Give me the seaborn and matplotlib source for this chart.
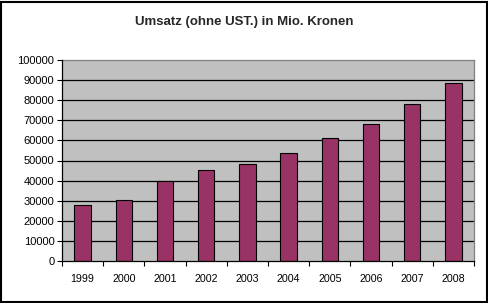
import matplotlib
matplotlib.use("Agg")
import matplotlib.pyplot as plt
import seaborn as sns
import pandas as pd
import numpy as np
from matplotlib.patches import Rectangle

years = ["1999", "2000", "2001", "2002", "2003", "2004", "2005", "2006", "2007", "2008"]
umsatz = [28000, 30500, 40000, 45500, 48500, 53700, 61000, 68000, 78000, 88500]
yticks = [0, 10000, 20000, 30000, 40000, 50000, 60000, 70000, 80000, 90000, 100000]
title = "Umsatz (ohne UST.) in Mio. Kronen"

sns.set_theme(style="white")
plt.rcParams["font.family"] = ["Liberation Sans", "DejaVu Sans"]

df = pd.DataFrame({"Jahr": years, "Umsatz": umsatz})

fig = plt.figure(figsize=(4.89, 3.03), dpi=100)
fig.patch.set_facecolor("white")
ax = fig.add_axes([62/489, 42/303, 412/489, 201/303])
ax.set_facecolor("#C0C0C0")

sns.barplot(data=df, x="Jahr", y="Umsatz", color="#993366", width=0.4,
            edgecolor="black", linewidth=0.8, saturation=1, ax=ax, zorder=3)

ax.set_ylim(0, 100000)
ax.set_xlim(-0.5, len(years) - 0.5)
ax.set_yticks(yticks)
ax.set_yticklabels([str(v) for v in yticks], fontsize=8, color="black")
for v in yticks[1:-1]:
    ax.axhline(v, color="black", linewidth=0.9, zorder=1)

ax.set_xticks(range(len(years)))
ax.set_xticklabels(years, fontsize=7.7, color="black")
ax.tick_params(axis="x", which="major", length=0, pad=9)
ax.set_xticks(np.arange(-0.5, len(years), 1.0), minor=True)
ax.tick_params(axis="x", which="minor", length=3.5, width=0.8, color="black", direction="out", bottom=True)
ax.tick_params(axis="y", length=3.5, width=0.8, color="black", direction="out", left=True, pad=2)

ax.set_xlabel("")
ax.set_ylabel("")

for s in ["left", "bottom"]:
    ax.spines[s].set_color("black")
    ax.spines[s].set_linewidth(0.9)
    ax.spines[s].set_visible(True)
for s in ["top", "right"]:
    ax.spines[s].set_color("#808080")
    ax.spines[s].set_linewidth(0.9)
    ax.spines[s].set_visible(True)
ax.spines["left"].set_zorder(5)
ax.spines["bottom"].set_zorder(5)

fig.text(0.5, 1 - 22/303, title, ha="center", va="center", fontsize=9.5, fontweight="bold")

fig.patches.append(Rectangle((0.002, 0.003), 0.994, 0.992, transform=fig.transFigure,
                             fill=False, edgecolor="black", linewidth=1.5))

fig.savefig("out.png", dpi=100)
